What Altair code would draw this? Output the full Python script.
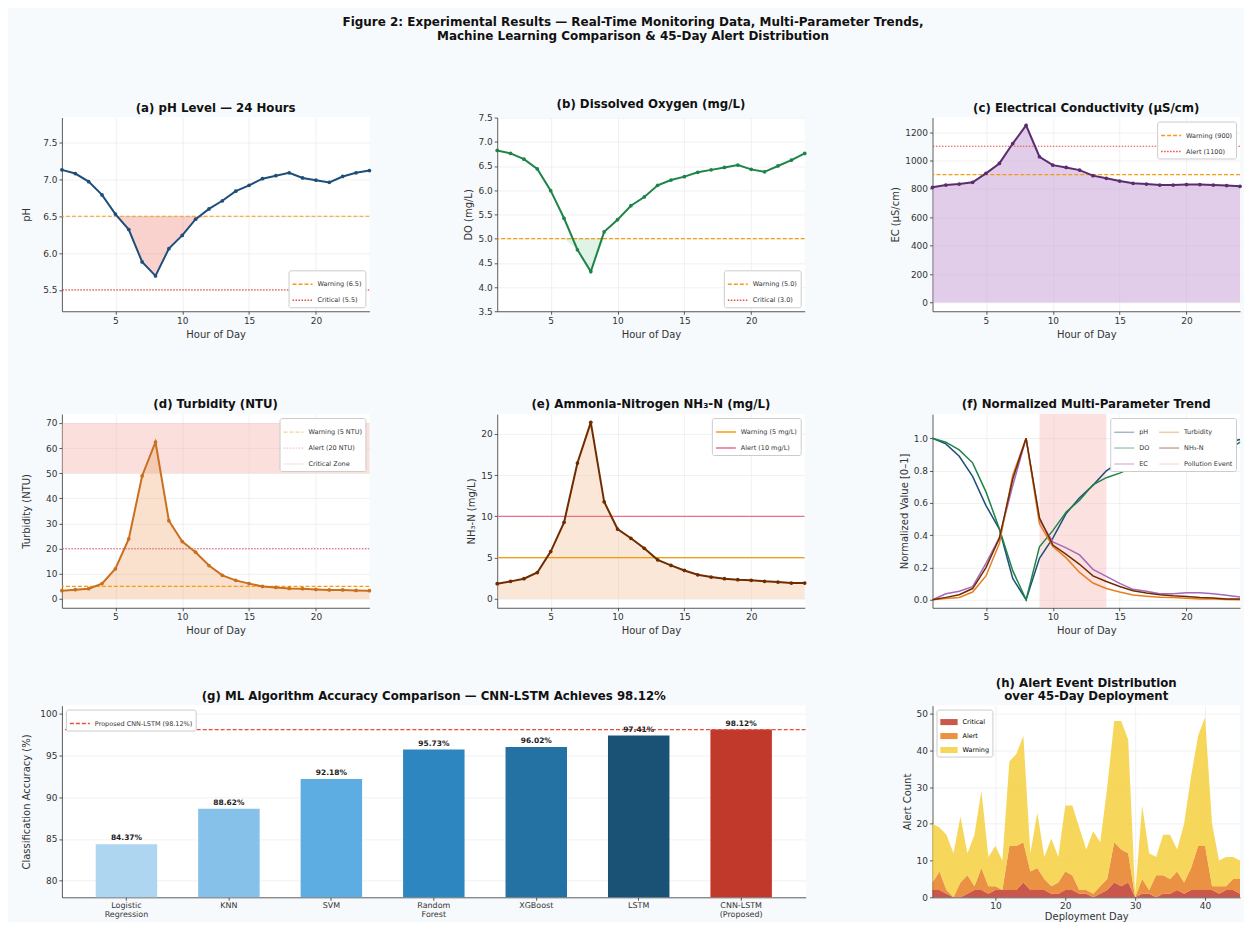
import altair as alt
import pandas as pd
import numpy as np

# ---------------- data ----------------
hours = list(range(1, 25))
ph = [7.13, 7.08, 6.97, 6.79, 6.53, 6.32, 5.88, 5.69, 6.06, 6.24, 6.46, 6.60,
      6.71, 6.84, 6.92, 7.01, 7.05, 7.09, 7.02, 6.99, 6.96, 7.04, 7.09, 7.12]
do = [6.82, 6.76, 6.64, 6.44, 5.99, 5.42, 4.77, 4.32, 5.14, 5.39, 5.68, 5.86,
      6.10, 6.21, 6.28, 6.37, 6.42, 6.47, 6.52, 6.43, 6.38, 6.50, 6.62, 6.76]
ec = [811, 827, 834, 846, 909, 979, 1119, 1247, 1026, 967, 951, 932,
      893, 874, 855, 839, 834, 827, 827, 830, 830, 827, 823, 818]
turb = [3.3, 3.7, 4.1, 6.1, 12.0, 23.9, 48.9, 62.4, 31.1, 22.8, 18.6, 13.3,
        9.4, 7.4, 6.1, 5.0, 4.6, 4.2, 4.1, 3.8, 3.6, 3.6, 3.4, 3.3]
nh3 = [1.85, 2.13, 2.45, 3.2, 5.74, 9.28, 16.47, 21.4, 11.77, 8.47, 7.35, 6.14,
       4.74, 4.06, 3.45, 2.93, 2.65, 2.45, 2.33, 2.25, 2.13, 2.05, 1.93, 1.93]

models = ["Logistic\nRegression", "KNN", "SVM", "Random\nForest", "XGBoost", "LSTM", "CNN-LSTM\n(Proposed)"]
accuracy = [84.37, 88.62, 92.18, 95.73, 96.02, 97.41, 98.12]
model_colors = ["#aed6f1", "#85c1e9", "#5dade2", "#2e86c1", "#2471a3", "#1a5276", "#c0392b"]

days = list(range(1, 46))
critical = [2, 2, 1, 0, 0, 1, 2, 2, 1, 2, 2, 2, 2, 4, 2, 2, 2, 1, 1, 2, 2, 1, 1, 0, 1,
            2, 4, 3, 4, 0, 1, 1, 0, 1, 1, 2, 1, 2, 2, 2, 2, 1, 2, 2, 1]
alert = [2, 5, 1, 0, 4, 5, 1, 6, 2, 1, 0, 12, 12, 11, 5, 6, 3, 2, 3, 5, 4, 1, 1, 1, 2,
         3, 11, 10, 8, 0, 4, 1, 6, 5, 4, 5, 3, 6, 12, 12, 1, 2, 1, 3, 4]
warning = [16, 12, 15, 12, 18, 6, 14, 21, 8, 11, 8, 23, 25, 29, 5, 15, 6, 13, 7, 18, 19, 17, 11, 17, 12,
           25, 33, 35, 31, 1, 20, 10, 5, 11, 12, 6, 16, 25, 30, 35, 17, 7, 8, 6, 5]

# ---------------- style ----------------
BG = "#f7fafc"
FONT = "DejaVu Sans"
W, H, H3 = 308, 194, 192
ORANGE = "#f39c12"
RED = "#e74c3c"
DASH = [4, 2]
DOT = [1.5, 1.5]
EXT = dict(minExtent=24, maxExtent=24, titlePadding=6)

df_h = pd.DataFrame({"hour": hours, "ph": ph, "do": do, "ec": ec, "turb": turb, "nh3": nh3})


def ptitle(t, lh=None, size=11.8):
    kw = dict(fontSize=size, fontWeight="bold", offset=3, font=FONT, color="#111")
    if lh:
        kw["lineHeight"] = lh
    return alt.TitleParams(t, **kw)


def x_hours():
    return alt.X("hour:Q", scale=alt.Scale(domain=[1, 24], nice=False, zero=False),
                 axis=alt.Axis(values=[5, 10, 15, 20], format="d", title="Hour of Day"))


def leg(orient, **kw):
    return alt.Legend(title=None, orient=orient, symbolType="stroke", symbolSize=400,
                      labelFontSize=6.5, labelColor="#333", fillColor="white", strokeColor="#cccccc",
                      padding=3, cornerRadius=2, rowPadding=1, offset=4, labelLimit=200, **kw)


def threshold_layer(keys, vals, colors, dashes, yenc, orient, widths=None, **legkw):
    df = pd.DataFrame({"key": keys[:len(vals)], "v": vals})
    enc = dict(
        y=yenc("v"),
        color=alt.Color("key:N", scale=alt.Scale(domain=keys, range=colors), legend=leg(orient, **legkw)),
        strokeDash=alt.StrokeDash("key:N", scale=alt.Scale(domain=keys, range=dashes), legend=leg(orient, **legkw)),
    )
    if widths is not None:
        enc["strokeWidth"] = alt.StrokeWidth("key:N", scale=alt.Scale(domain=keys, range=widths),
                                             legend=leg(orient, **legkw))
        return alt.Chart(df).mark_rule(clip=True).encode(**enc)
    return alt.Chart(df).mark_rule(clip=True, strokeWidth=1.2).encode(**enc)


def line_layer(field, color, yenc):
    return alt.Chart(df_h).mark_line(
        color=color, strokeWidth=2,
        point=alt.OverlayMarkDef(filled=True, size=14, color=color)
    ).encode(x=x_hours(), y=yenc(field))


def make_y(domain, values, fmt, title, **axkw):
    def f(field):
        return alt.Y(f"{field}:Q", scale=alt.Scale(domain=domain, nice=False, zero=False),
                     axis=alt.Axis(values=values, format=fmt, title=title, labelOverlap=False, **axkw))
    return f


# (a) pH
ya = make_y([5.21, 7.84], [5.5, 6.0, 6.5, 7.0, 7.5], ".1f", "pH", **EXT)
fill_a = alt.Chart(df_h).transform_calculate(lo="min(datum.ph, 6.5)").mark_area(
    color=RED, opacity=0.25).encode(x=x_hours(), y=ya("lo"), y2=alt.datum(6.5))
thr_a = threshold_layer(["Warning (6.5)", "Critical (5.5)"], [6.5, 5.5], [ORANGE, RED], [DASH, DOT],
                        ya, "bottom-right")
panel_a = alt.layer(fill_a, thr_a, line_layer("ph", "#1f4e79", ya)).properties(
    width=W, height=H, title=ptitle("(a) pH Level — 24 Hours"))

# (b) DO
yb = make_y([3.5, 7.5], [3.5, 4.0, 4.5, 5.0, 5.5, 6.0, 6.5, 7.0, 7.5], ".1f", "DO (mg/L)")
fill_b = alt.Chart(df_h).transform_calculate(lo="min(datum.do, 5)").mark_area(
    color="#27ae60", opacity=0.15).encode(x=x_hours(), y=yb("lo"), y2=alt.datum(5))
thr_b = threshold_layer(["Warning (5.0)", "Critical (3.0)"], [5.0, 3.0], [ORANGE, RED], [DASH, DOT],
                        yb, "bottom-right")
panel_b = alt.layer(fill_b, thr_b, line_layer("do", "#1e8449", yb)).properties(
    width=W, height=H, title=ptitle("(b) Dissolved Oxygen (mg/L)"))

# (c) EC
yc = make_y([-62, 1302], [0, 200, 400, 600, 800, 1000, 1200], "d", "EC (μS/cm)")
fill_c = alt.Chart(df_h).mark_area(color="#c39bd3", opacity=0.5).encode(
    x=x_hours(), y=yc("ec"), y2=alt.datum(0))
thr_c = threshold_layer(["Warning (900)", "Alert (1100)"], [900, 1100], [ORANGE, RED], [DASH, DOT],
                        yc, "top-right")
panel_c = alt.layer(fill_c, thr_c, line_layer("ec", "#5b2c6f", yc)).properties(
    width=W, height=H, title=ptitle("(c) Electrical Conductivity (μS/cm)"))

# (d) Turbidity
yd = make_y([-3.5, 73.5], [0, 10, 20, 30, 40, 50, 60, 70], "d", "Turbidity (NTU)", **EXT)
keys_d = ["Warning (5 NTU)", "Alert (20 NTU)", "Critical Zone"]
cols_d = [ORANGE, "#e8708a", "#f5b7b1"]
zone_d = alt.Chart(pd.DataFrame({"key": ["Critical Zone"], "lo": [50], "hi": [70]})).mark_rect(
    opacity=0.45).encode(
    y=yd("lo"), y2="hi:Q",
    color=alt.Color("key:N", scale=alt.Scale(domain=keys_d, range=cols_d), legend=leg("top-right")))
fill_d = alt.Chart(df_h).mark_area(color="#eb9a5c", opacity=0.3).encode(
    x=x_hours(), y=yd("turb"), y2=alt.datum(0))
thr_d = threshold_layer(keys_d, [5, 20], cols_d, [DASH, DOT, [1, 0]], yd, "top-right",
                        widths=[1.2, 1.2, 6])
panel_d = alt.layer(zone_d, fill_d, thr_d, line_layer("turb", "#ca6f1e", yd)).properties(
    width=W, height=H, title=ptitle("(d) Turbidity (NTU)"))

# (e) NH3-N
ye = make_y([-1.07, 22.4], [0, 5, 10, 15, 20], "d", "NH₃-N (mg/L)")
fill_e = alt.Chart(df_h).mark_area(color="#f5c49a", opacity=0.4).encode(
    x=x_hours(), y=ye("nh3"), y2=alt.datum(0))
thr_e = threshold_layer(["Warning (5 mg/L)", "Alert (10 mg/L)"], [5, 10], [ORANGE, "#e8708a"],
                        [[1, 0], [1, 0]], ye, "top-right")
panel_e = alt.layer(fill_e, thr_e, line_layer("nh3", "#6e2c00", ye)).properties(
    width=W, height=H, title=ptitle("(e) Ammonia-Nitrogen NH₃-N (mg/L)"))

# (f) normalized
series_names = ["pH", "DO", "EC", "Turbidity", "NH₃-N"]
rows = []
for name, arr in zip(series_names, [ph, do, ec, turb, nh3]):
    a = np.array(arr, dtype=float)
    n = (a - a.min()) / (a.max() - a.min())
    for hr, v in zip(hours, n):
        rows.append({"hour": hr, "series": name, "val": v})
df_f = pd.DataFrame(rows)
keys_f = ["pH", "DO", "EC", "Turbidity", "NH₃-N", "Pollution Event"]
cols_f = ["#1f4e79", "#1e8449", "#a569bd", "#e67e22", "#6e2c00", "#f5b7b1"]
wid_f = [1.5, 1.5, 1.5, 1.5, 1.5, 6]
yf = make_y([-0.05, 1.15], [0, 0.2, 0.4, 0.6, 0.8, 1.0], ".1f", "Normalized Value [0–1]")
leg_f = leg("top-right", columns=2, columnPadding=6)
band_f = alt.Chart(pd.DataFrame({"series": ["Pollution Event"], "s": [9], "e": [14]})).mark_rect(
    opacity=0.4).encode(
    x=alt.X("s:Q", scale=alt.Scale(domain=[1, 24], nice=False, zero=False),
            axis=alt.Axis(values=[5, 10, 15, 20], format="d", title="Hour of Day")), x2="e:Q",
    color=alt.Color("series:N", scale=alt.Scale(domain=keys_f, range=cols_f), legend=leg_f))
lines_f = alt.Chart(df_f).mark_line().encode(
    x=x_hours(), y=yf("val"),
    color=alt.Color("series:N", scale=alt.Scale(domain=keys_f, range=cols_f), legend=leg_f),
    strokeWidth=alt.StrokeWidth("series:N", scale=alt.Scale(domain=keys_f, range=wid_f), legend=leg_f),
    detail="series:N")
panel_f = alt.layer(band_f, lines_f).properties(
    width=W, height=H, title=ptitle("(f) Normalized Multi-Parameter Trend"))

# (g) ML accuracy
df_g = pd.DataFrame({"model": models, "acc": accuracy, "col": model_colors})
yg = make_y([78, 101], [80, 85, 90, 95, 100], "d", "Classification Accuracy (%)", **EXT)
x_g = alt.X("model:N", sort=models, scale=alt.Scale(paddingInner=0.4, paddingOuter=0.33),
            axis=alt.Axis(labelExpr="split(datum.label, '\\n')", labelAngle=0, title=None,
                          labelFontSize=8, grid=False, labelPadding=1, labelLineHeight=9))
bars_g = alt.Chart(df_g).mark_bar(clip=True).encode(
    x=x_g, y=yg("acc"), color=alt.Color("col:N", scale=None))
text_g = alt.Chart(df_g).transform_calculate(lbl="format(datum.acc, '.2f') + '%'").mark_text(
    baseline="bottom", dy=-2, fontSize=7.5, fontWeight="bold", color="#222").encode(
    x=x_g, y=yg("acc"), text="lbl:N")
thr_g = threshold_layer(["Proposed CNN-LSTM (98.12%)"], [98.12], [RED], [DASH], yg, "top-left")
panel_g = alt.layer(bars_g, thr_g, text_g).properties(
    width=745, height=H3,
    title=ptitle("(g) ML Algorithm Accuracy Comparison — CNN-LSTM Achieves 98.12%"))

# (h) alerts stacked
levels = ["Critical", "Alert", "Warning"]
rows = []
for lvl_i, (lvl, arr) in enumerate(zip(levels, [critical, alert, warning])):
    for d, c in zip(days, arr):
        rows.append({"day": d, "level": lvl, "count": c, "ord": lvl_i})
df_hh = pd.DataFrame(rows)
panel_h = alt.Chart(df_hh).mark_area(opacity=0.85).encode(
    x=alt.X("day:Q", scale=alt.Scale(domain=[1, 45], nice=False, zero=False),
            axis=alt.Axis(values=[10, 20, 30, 40], format="d", title="Deployment Day",
                          labelPadding=1, titlePadding=1)),
    y=alt.Y("count:Q", stack="zero", scale=alt.Scale(domain=[0, 52.2], nice=False),
            axis=alt.Axis(values=[0, 10, 20, 30, 40, 50], format="d", title="Alert Count")),
    color=alt.Color("level:N", scale=alt.Scale(domain=levels, range=["#c0392b", "#e67e22", "#f4d03f"]),
                    legend=alt.Legend(title=None, orient="top-left", symbolType="M-1,-0.35L1,-0.35L1,0.35L-1,0.35Z",
                                      symbolSize=300, labelFontSize=6.5, fillColor="white",
                                      strokeColor="#cccccc", padding=3, cornerRadius=2, rowPadding=1,
                                      offset=4, symbolOpacity=0.85)),
    order=alt.Order("ord:Q")
).properties(width=W, height=H3,
             title=ptitle(["(h) Alert Event Distribution", "over 45-Day Deployment"], lh=12.5))

# ---------------- layout ----------------
res = dict(color="independent", strokeDash="independent", strokeWidth="independent")
row1 = alt.hconcat(panel_a, panel_b, panel_c, spacing=128, bounds="flush").resolve_scale(**res)
row2 = alt.hconcat(panel_d, panel_e, panel_f, spacing=128, bounds="flush").resolve_scale(**res)
row3 = alt.hconcat(panel_g, panel_h, spacing=127, bounds="flush").resolve_scale(**res)

top = alt.vconcat(row1, row2, spacing=60).resolve_scale(**res)
chart = alt.vconcat(top, row3, spacing=42).resolve_scale(**res).properties(
    title=alt.TitleParams(["Figure 2: Experimental Results — Real-Time Monitoring Data, Multi-Parameter Trends,",
                           "Machine Learning Comparison & 45-Day Alert Distribution"],
                          fontSize=12, fontWeight="bold", anchor="middle", offset=56, font=FONT,
                          color="#111", lineHeight=13.5),
    padding={"left": 14, "top": 7, "right": 0, "bottom": 0}
).configure(background=BG, font=FONT).configure_view(stroke=None, fill="white").configure_axis(
    domainColor="#333", domainWidth=0.8, tickColor="#333", tickSize=3, tickWidth=0.8,
    labelFontSize=9, labelColor="#333", labelFont=FONT,
    titleFontSize=10, titleFontWeight="normal", titleColor="#333", titleFont=FONT,
    gridColor="#e8e8e8", gridWidth=0.6
)

chart.save("out.html", embed_options={"renderer": "svg", "actions": False})
